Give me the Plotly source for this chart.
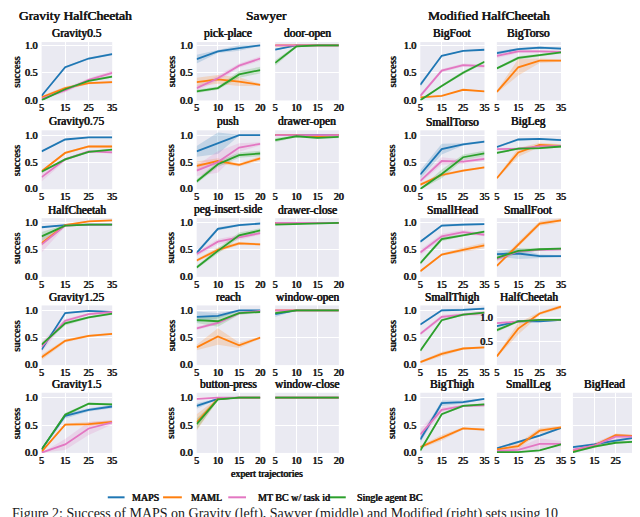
import plotly.graph_objects as go

W, H = 640, 517

X_LONG = [5, 15, 25, 35]
X_SAWYER = [5, 10, 15, 20]
METHODS = ["MAPS", "MAML", "MT BC w/ task id", "Single agent BC"]
COLORS = ["#1f77b4", "#ff7f0e", "#e377c2", "#2ca02c"]
FILLS = ["rgba(31,119,180,0.2)", "rgba(255,127,14,0.2)", "rgba(227,119,194,0.2)", "rgba(44,160,44,0.2)"]

# grid of tasks: (key, row, col)
GRID = [
    ("Gravity0.5", 0, 0), ("pick-place", 0, 1), ("door-open", 0, 2), ("BigFoot", 0, 3), ("BigTorso", 0, 4),
    ("Gravity0.75", 1, 0), ("push", 1, 1), ("drawer-open", 1, 2), ("SmallTorso", 1, 3), ("BigLeg", 1, 4),
    ("G-HalfCheetah", 2, 0), ("peg-insert-side", 2, 1), ("drawer-close", 2, 2), ("SmallHead", 2, 3), ("SmallFoot", 2, 4),
    ("Gravity1.25", 3, 0), ("reach", 3, 1), ("window-open", 3, 2), ("SmallThigh", 3, 3), ("M-HalfCheetah", 3, 4),
    ("Gravity1.5", 4, 0), ("button-press", 4, 1), ("window-close", 4, 2), ("BigThigh", 4, 3), ("SmallLeg", 4, 4), ("BigHead", 4, 5),
]
SAWYER_TASKS = ["pick-place", "door-open", "push", "drawer-open", "peg-insert-side", "drawer-close",
                "reach", "window-open", "button-press", "window-close"]
TITLES = {"G-HalfCheetah": "HalfCheetah", "M-HalfCheetah": "HalfCheetah"}

MAPS = {
    "Gravity0.5": [0.08, 0.60, 0.76, 0.84], "Gravity0.75": [0.70, 0.92, 0.96, 0.96],
    "G-HalfCheetah": [0.92, 0.96, 0.97, 0.97], "Gravity1.25": [0.28, 0.95, 0.99, 0.97],
    "Gravity1.5": [0.06, 0.67, 0.78, 0.84],
    "pick-place": [0.75, 0.89, 0.95, 1.00], "door-open": [0.92, 1.00, 1.00, 1.00],
    "push": [0.70, 0.85, 1.00, 1.00], "drawer-open": [1.00, 1.00, 1.00, 1.00],
    "peg-insert-side": [0.44, 0.89, 0.96, 0.99], "drawer-close": [1.00, 1.00, 1.00, 1.00],
    "reach": [0.88, 0.90, 1.00, 1.00], "window-open": [0.93, 1.00, 1.00, 1.00],
    "button-press": [0.85, 0.98, 1.00, 1.00], "window-close": [1.00, 1.00, 1.00, 1.00],
    "BigFoot": [0.28, 0.81, 0.90, 0.92], "BigTorso": [0.86, 0.93, 0.96, 0.94],
    "SmallTorso": [0.27, 0.74, 0.83, 0.88], "BigLeg": [0.78, 0.92, 0.93, 0.91],
    "SmallHead": [0.65, 0.95, 0.97, 0.98], "SmallFoot": [0.42, 0.43, 0.38, 0.38],
    "SmallThigh": [0.74, 1.00, 1.01, 1.03], "M-HalfCheetah": [0.82, 0.92, 0.92, 0.95],
    "BigThigh": [0.24, 0.90, 0.92, 0.98], "SmallLeg": [0.08, 0.20, 0.31, 0.45],
    "BigHead": [0.10, 0.15, 0.22, 0.28],
}
MAPS_SD = {
    "Gravity0.5": [0.02, 0.02, 0.02, 0.02], "Gravity0.75": [0.01, 0.01, 0.01, 0.01],
    "G-HalfCheetah": [0.01, 0.01, 0.01, 0.01], "Gravity1.25": [0.03, 0.01, 0.01, 0.01],
    "Gravity1.5": [0.02, 0.05, 0.03, 0.03],
    "pick-place": [0.08, 0.03, 0.05, 0.01], "door-open": [0.02, 0.0, 0.0, 0.0],
    "push": [0.10, 0.20, 0.01, 0.01], "drawer-open": [0.01, 0.01, 0.01, 0.01],
    "peg-insert-side": [0.03, 0.03, 0.02, 0.01], "drawer-close": [0.01, 0.01, 0.0, 0.0],
    "reach": [0.10, 0.05, 0.01, 0.01], "window-open": [0.05, 0.0, 0.0, 0.0],
    "button-press": [0.05, 0.01, 0.0, 0.0], "window-close": [0.0, 0.0, 0.0, 0.0],
    "BigFoot": [0.04, 0.01, 0.01, 0.01], "BigTorso": [0.03, 0.02, 0.02, 0.02],
    "SmallTorso": [0.08, 0.10, 0.02, 0.02], "BigLeg": [0.02, 0.02, 0.02, 0.02],
    "SmallHead": [0.02, 0.02, 0.02, 0.02], "SmallFoot": [0.05, 0.10, 0.03, 0.02],
    "SmallThigh": [0.02, 0.02, 0.02, 0.02], "M-HalfCheetah": [0.02, 0.02, 0.02, 0.02],
    "BigThigh": [0.06, 0.05, 0.03, 0.01], "SmallLeg": [0.02, 0.02, 0.02, 0.02],
    "BigHead": [0.02, 0.02, 0.02, 0.02],
}
MAML = {
    "Gravity0.5": [0.05, 0.22, 0.31, 0.33], "Gravity0.75": [0.33, 0.67, 0.79, 0.79],
    "G-HalfCheetah": [0.62, 0.96, 1.03, 1.05], "Gravity1.25": [0.14, 0.44, 0.53, 0.57],
    "Gravity1.5": [0.02, 0.51, 0.52, 0.56],
    "pick-place": [0.33, 0.38, 0.34, 0.28], "door-open": [1.00, 1.00, 1.00, 1.00],
    "push": [0.43, 0.52, 0.45, 0.57], "drawer-open": [1.00, 1.00, 0.98, 1.00],
    "peg-insert-side": [0.30, 0.50, 0.62, 0.60], "drawer-close": [1.00, 1.00, 1.00, 1.00],
    "reach": [0.32, 0.52, 0.36, 0.50], "window-open": [1.00, 1.00, 1.00, 1.00],
    "button-press": [0.55, 0.98, 1.00, 1.00], "window-close": [1.00, 1.00, 1.00, 1.00],
    "BigFoot": [0.05, 0.08, 0.19, 0.16], "BigTorso": [0.15, 0.60, 0.72, 0.72],
    "SmallTorso": [0.08, 0.26, 0.34, 0.40], "BigLeg": [0.20, 0.68, 0.82, 0.80],
    "SmallHead": [0.10, 0.41, 0.50, 0.58], "SmallFoot": [0.20, 0.60, 0.99, 1.05],
    "SmallThigh": [0.05, 0.20, 0.30, 0.32], "M-HalfCheetah": [0.20, 0.77, 1.08, 1.22],
    "BigThigh": [0.10, 0.27, 0.44, 0.42], "SmallLeg": [0.06, 0.12, 0.40, 0.46],
    "BigHead": [0.04, 0.13, 0.32, 0.30],
}
MAML_SD = {
    "Gravity0.5": [0.03, 0.03, 0.02, 0.02], "Gravity0.75": [0.02, 0.02, 0.02, 0.02],
    "G-HalfCheetah": [0.05, 0.02, 0.01, 0.01], "Gravity1.25": [0.05, 0.03, 0.02, 0.02],
    "Gravity1.5": [0.02, 0.02, 0.04, 0.03],
    "pick-place": [0.08, 0.08, 0.08, 0.02], "door-open": [0.01, 0.01, 0.01, 0.01],
    "push": [0.08, 0.05, 0.03, 0.04], "drawer-open": [0.02, 0.01, 0.02, 0.01],
    "peg-insert-side": [0.03, 0.04, 0.03, 0.02], "drawer-close": [0.01, 0.01, 0.0, 0.0],
    "reach": [0.05, 0.15, 0.05, 0.02], "window-open": [0.0, 0.0, 0.0, 0.0],
    "button-press": [0.15, 0.02, 0.0, 0.0], "window-close": [0.0, 0.0, 0.0, 0.0],
    "BigFoot": [0.01, 0.01, 0.01, 0.01], "BigTorso": [0.02, 0.15, 0.04, 0.02],
    "SmallTorso": [0.03, 0.03, 0.02, 0.02], "BigLeg": [0.02, 0.08, 0.04, 0.03],
    "SmallHead": [0.02, 0.02, 0.04, 0.05], "SmallFoot": [0.02, 0.05, 0.04, 0.04],
    "SmallThigh": [0.02, 0.04, 0.02, 0.02], "M-HalfCheetah": [0.02, 0.12, 0.03, 0.04],
    "BigThigh": [0.03, 0.05, 0.02, 0.02], "SmallLeg": [0.02, 0.05, 0.05, 0.03],
    "BigHead": [0.02, 0.03, 0.03, 0.02],
}
MTBC = {
    "Gravity0.5": [0.03, 0.18, 0.37, 0.50], "Gravity0.75": [0.22, 0.55, 0.70, 0.68],
    "G-HalfCheetah": [0.60, 0.95, 0.97, 0.97], "Gravity1.25": [0.33, 0.81, 0.93, 0.97],
    "Gravity1.5": [0.00, 0.15, 0.44, 0.55],
    "pick-place": [0.22, 0.40, 0.63, 0.76], "door-open": [1.00, 1.00, 1.00, 1.00],
    "push": [0.34, 0.50, 0.77, 0.84], "drawer-open": [1.00, 1.00, 1.00, 1.00],
    "peg-insert-side": [0.42, 0.65, 0.73, 0.81], "drawer-close": [1.00, 1.00, 1.00, 1.00],
    "reach": [0.67, 0.77, 0.95, 0.99], "window-open": [1.00, 1.00, 1.00, 1.00],
    "button-press": [0.98, 1.00, 1.00, 1.00], "window-close": [1.00, 1.00, 1.00, 1.00],
    "BigFoot": [0.08, 0.54, 0.64, 0.62], "BigTorso": [0.81, 0.89, 0.89, 0.88],
    "SmallTorso": [0.15, 0.52, 0.51, 0.56], "BigLeg": [0.74, 0.75, 0.79, 0.80],
    "SmallHead": [0.45, 0.75, 0.83, 0.78], "SmallFoot": [0.33, 0.47, 0.50, 0.51],
    "SmallThigh": [0.57, 0.88, 0.92, 0.95], "M-HalfCheetah": [0.88, 0.92, 0.95, 0.95],
    "BigThigh": [0.33, 0.78, 0.85, 0.86], "SmallLeg": [0.03, 0.05, 0.16, 0.16],
    "BigHead": [0.05, 0.13, 0.29, 0.29],
}
MTBC_SD = {
    "Gravity0.5": [0.02, 0.04, 0.03, 0.04], "Gravity0.75": [0.08, 0.03, 0.02, 0.02],
    "G-HalfCheetah": [0.15, 0.02, 0.01, 0.01], "Gravity1.25": [0.10, 0.03, 0.02, 0.02],
    "Gravity1.5": [0.0, 0.10, 0.12, 0.04],
    "pick-place": [0.05, 0.05, 0.04, 0.04], "door-open": [0.01, 0.01, 0.01, 0.01],
    "push": [0.10, 0.20, 0.08, 0.03], "drawer-open": [0.01, 0.01, 0.01, 0.01],
    "peg-insert-side": [0.04, 0.05, 0.05, 0.03], "drawer-close": [0.01, 0.01, 0.0, 0.0],
    "reach": [0.03, 0.03, 0.03, 0.02], "window-open": [0.0, 0.0, 0.0, 0.0],
    "button-press": [0.02, 0.0, 0.0, 0.0], "window-close": [0.0, 0.0, 0.0, 0.0],
    "BigFoot": [0.03, 0.03, 0.03, 0.03], "BigTorso": [0.04, 0.03, 0.02, 0.02],
    "SmallTorso": [0.04, 0.07, 0.04, 0.04], "BigLeg": [0.02, 0.02, 0.02, 0.02],
    "SmallHead": [0.05, 0.05, 0.04, 0.03], "SmallFoot": [0.05, 0.03, 0.02, 0.02],
    "SmallThigh": [0.03, 0.04, 0.03, 0.05], "M-HalfCheetah": [0.02, 0.02, 0.02, 0.02],
    "BigThigh": [0.10, 0.05, 0.02, 0.02], "SmallLeg": [0.02, 0.05, 0.10, 0.05],
    "BigHead": [0.03, 0.05, 0.05, 0.03],
}
SINGLE = {
    "Gravity0.5": [0.00, 0.20, 0.35, 0.43], "Gravity0.75": [0.32, 0.55, 0.69, 0.73],
    "G-HalfCheetah": [0.75, 0.95, 0.97, 0.97], "Gravity1.25": [0.37, 0.76, 0.87, 0.94],
    "Gravity1.5": [0.06, 0.69, 0.89, 0.88],
    "pick-place": [0.16, 0.22, 0.47, 0.55], "door-open": [0.68, 0.98, 1.00, 1.00],
    "push": [0.14, 0.46, 0.63, 0.66], "drawer-open": [0.91, 0.98, 0.95, 0.97],
    "peg-insert-side": [0.17, 0.48, 0.77, 0.86], "drawer-close": [0.97, 0.98, 1.00, 1.00],
    "reach": [0.82, 0.80, 0.95, 0.97], "window-open": [0.95, 1.00, 1.00, 1.00],
    "button-press": [0.52, 0.97, 1.00, 1.00], "window-close": [1.00, 1.00, 1.00, 1.00],
    "BigFoot": [0.00, 0.26, 0.50, 0.70], "BigTorso": [0.58, 0.77, 0.82, 0.87],
    "SmallTorso": [0.00, 0.28, 0.59, 0.66], "BigLeg": [0.67, 0.75, 0.76, 0.79],
    "SmallHead": [0.25, 0.70, 0.77, 0.84], "SmallFoot": [0.35, 0.48, 0.51, 0.52],
    "SmallThigh": [0.26, 0.82, 0.92, 0.96], "M-HalfCheetah": [0.74, 0.92, 0.95, 0.95],
    "BigThigh": [0.04, 0.70, 0.85, 0.88], "SmallLeg": [0.01, 0.01, 0.04, 0.15],
    "BigHead": [0.01, 0.11, 0.18, 0.20],
}
SINGLE_SD = {
    "Gravity0.5": [0.01, 0.02, 0.02, 0.02], "Gravity0.75": [0.02, 0.02, 0.02, 0.02],
    "G-HalfCheetah": [0.08, 0.02, 0.01, 0.01], "Gravity1.25": [0.03, 0.04, 0.02, 0.02],
    "Gravity1.5": [0.02, 0.03, 0.02, 0.02],
    "pick-place": [0.03, 0.03, 0.06, 0.06], "door-open": [0.05, 0.02, 0.0, 0.0],
    "push": [0.04, 0.05, 0.05, 0.05], "drawer-open": [0.04, 0.02, 0.02, 0.02],
    "peg-insert-side": [0.03, 0.05, 0.05, 0.04], "drawer-close": [0.01, 0.01, 0.0, 0.0],
    "reach": [0.05, 0.10, 0.03, 0.02], "window-open": [0.02, 0.0, 0.0, 0.0],
    "button-press": [0.10, 0.02, 0.0, 0.0], "window-close": [0.0, 0.0, 0.0, 0.0],
    "BigFoot": [0.01, 0.02, 0.03, 0.02], "BigTorso": [0.02, 0.03, 0.02, 0.02],
    "SmallTorso": [0.01, 0.08, 0.05, 0.05], "BigLeg": [0.02, 0.02, 0.02, 0.02],
    "SmallHead": [0.03, 0.04, 0.02, 0.02], "SmallFoot": [0.05, 0.05, 0.02, 0.02],
    "SmallThigh": [0.02, 0.02, 0.02, 0.02], "M-HalfCheetah": [0.04, 0.02, 0.01, 0.01],
    "BigThigh": [0.03, 0.02, 0.02, 0.02], "SmallLeg": [0.01, 0.01, 0.01, 0.01],
    "BigHead": [0.02, 0.02, 0.02, 0.02],
}

MEANS = [MAPS, MAML, MTBC, SINGLE]
SDS = [MAPS_SD, MAML_SD, MTBC_SD, SINGLE_SD]

# layout in pixels
COL_X = [(31, 102.5), (188, 252.5), (267.5, 332), (414.5, 479.5), (492, 557), (569, 634)]
ROW_Y = [(32.5, 91.7), (122, 181.7), (211, 270.5), (299.5, 360), (388, 449)]

TXT = "#1a1a1a"
SERIF = "Liberation Serif"
# bold look made from the regular serif face plus a thin horizontal shadow
BOLD_SHADOW = "0.35px 0 0 #1a1a1a, -0.35px 0 0 #1a1a1a"


def bold(size):
    return dict(family=SERIF, size=size, color=TXT, shadow=BOLD_SHADOW)


F_TICK = bold(10)
F_SUB = bold(11.5)
F_GROUP = bold(13.5)
F_LAB = bold(10.5)
F_CAP = dict(family=SERIF, size=14, color=TXT)


def px(x):
    return x / W


def py(y):
    return 1 - y / H


fig = go.Figure()
layout = {}
annotations = []

for i, (key, r, c) in enumerate(GRID):
    n = i + 1
    xs = X_SAWYER if key in SAWYER_TASKS else X_LONG
    xa, ya = f"x{n}", f"y{n}"
    for m in range(4):
        mean = MEANS[m][key]
        sd = SDS[m][key]
        upper = [a + b for a, b in zip(mean, sd)]
        lower = [a - b for a, b in zip(mean, sd)]
        fig.add_trace(go.Scatter(
            x=list(xs) + list(xs)[::-1], y=upper + lower[::-1],
            fill="toself", fillcolor=FILLS[m], line=dict(width=0),
            mode="lines", hoverinfo="skip", showlegend=False, xaxis=xa, yaxis=ya))
    for m in range(4):
        fig.add_trace(go.Scatter(
            x=xs, y=MEANS[m][key], mode="lines", name=METHODS[m],
            line=dict(color=COLORS[m], width=1.8), showlegend=False,
            xaxis=xa, yaxis=ya))

    x0, x1 = COL_X[c]
    y0, y1 = ROW_Y[r]
    show_y = c in (0, 1, 3) or key == "M-HalfCheetah"
    if key == "M-HalfCheetah":
        yr = [0.02, 1.245]
        yt = [0.5, 1.0]
    elif r == 0:
        yr = [-0.005, 1.06]
        yt = [0.0, 0.5, 1.0]
    else:
        yr = [-0.005, 1.09]
        yt = [0.0, 0.5, 1.0]
    layout["xaxis" if n == 1 else f"xaxis{n}"] = dict(
        domain=[px(x0), px(x1)], anchor=ya, range=[xs[0], xs[-1]],
        tickvals=xs, ticktext=[str(v) for v in xs], tickfont=F_TICK,
        showgrid=True, gridcolor="white", gridwidth=1, zeroline=False,
        showline=False, ticks="", fixedrange=True)
    layout["yaxis" if n == 1 else f"yaxis{n}"] = dict(
        domain=[py(y1), py(y0)], anchor=xa, range=yr,
        tickvals=yt, ticktext=[f"{v:.1f}" for v in yt], tickfont=F_TICK,
        showticklabels=show_y, ticklabelstandoff=3,
        showgrid=True, gridcolor="white", gridwidth=1, zeroline=False,
        showline=False, ticks="", fixedrange=True)
    annotations.append(dict(
        x=px((x0 + x1) / 2), y=py(y0 - 8.5), xref="paper", yref="paper",
        text=TITLES.get(key, key), showarrow=False, xanchor="center", yanchor="middle",
        font=F_SUB))
    if c in (0, 1, 3):
        sx = {0: 5.5, 1: 162, 3: 386}[c]
        annotations.append(dict(
            x=px(sx), y=py((y0 + y1) / 2), xref="paper", yref="paper",
            text="success", textangle=-90, showarrow=False,
            xanchor="center", yanchor="middle", font=F_LAB))

for text, cx in [("Gravity HalfCheetah", 65), ("Sawyer", 259), ("Modified HalfCheetah", 484)]:
    annotations.append(dict(
        x=px(cx), y=py(6), xref="paper", yref="paper", text=text, showarrow=False,
        xanchor="center", yanchor="middle", font=F_GROUP))

annotations.append(dict(
    x=px(259), y=py(470), xref="paper", yref="paper", text="expert trajectories",
    showarrow=False, xanchor="center", yanchor="middle", font=bold(10)))

shapes = []
LEG = [(98, 115, 121), (154, 173, 180), (220, 238, 248), (322, 339, 348)]
for m, (lx0, lx1, tx) in enumerate(LEG):
    shapes.append(dict(type="line", xref="paper", yref="paper",
                       x0=px(lx0), x1=px(lx1), y0=py(494), y1=py(494),
                       line=dict(color=COLORS[m], width=2)))
    annotations.append(dict(
        x=px(tx), y=py(494), xref="paper", yref="paper", text=METHODS[m],
        showarrow=False, xanchor="left", yanchor="middle", font=bold(10)))

annotations.append(dict(
    x=px(-1), y=py(511), xref="paper", yref="paper",
    text="Figure 2: Success of MAPS on Gravity (left), Sawyer (middle) and Modified (right) sets using 10",
    showarrow=False, xanchor="left", yanchor="middle", font=F_CAP))

fig.update_layout(
    width=W, height=H, margin=dict(l=0, r=0, t=0, b=0),
    paper_bgcolor="white", plot_bgcolor="#EAEAF2",
    showlegend=False, annotations=annotations, shapes=shapes, **layout)

fig.write_html("out.html")
